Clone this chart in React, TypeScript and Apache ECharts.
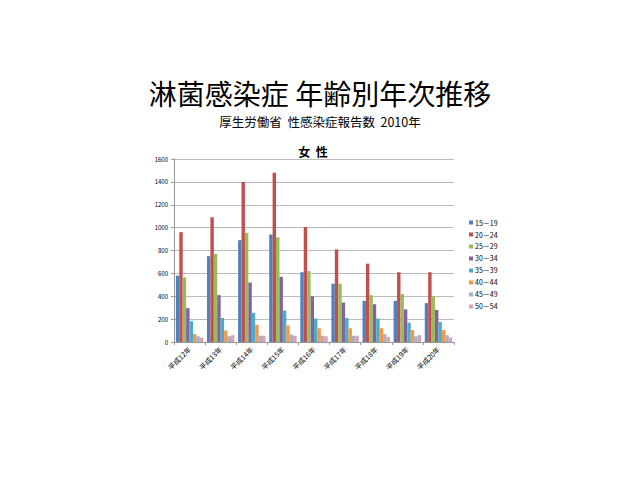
import { useEffect, useRef } from "react";
import * as echarts from "echarts";

const years = ["平成12年", "平成13年", "平成14年", "平成15年", "平成16年", "平成17年", "平成18年", "平成19年", "平成20年"];
const ageGroups = ["15－19", "20－24", "25－29", "30－34", "35－39", "40－44", "45－49", "50－54"];
const colors = ["#4F81BD", "#C0504D", "#9BBB59", "#8064A2", "#4BACC6", "#F79646", "#A3B0C8", "#D9A3B2"];

// one array per age group, values per year
const age15 = [580, 750, 890, 940, 610, 510, 360, 360, 340];
const age20 = [960, 1090, 1400, 1480, 1005, 810, 685, 610, 610];
const age25 = [565, 770, 955, 915, 620, 510, 410, 420, 400];
const age30 = [296, 410, 520, 570, 400, 345, 330, 285, 280];
const age35 = [182, 210, 255, 275, 205, 210, 205, 170, 175];
const age40 = [70, 100, 150, 145, 120, 120, 120, 105, 105];
const age45 = [50, 50, 55, 65, 55, 55, 70, 50, 60];
const age50 = [38, 60, 55, 55, 50, 55, 45, 60, 40];
const seriesData = [age15, age20, age25, age30, age35, age40, age45, age50];

export default function App() {
  const ref = useRef<HTMLDivElement | null>(null);

  useEffect(() => {
    const el = ref.current!;
    const chart = echarts.init(el, null, { renderer: "svg" });
    chart.setOption({
      animation: false,
      backgroundColor: "#fff",
      textStyle: { fontFamily: "Noto Sans CJK JP" },
      title: [
        {
          text: "淋菌感染症 年齢別年次推移",
          left: "center",
          top: 79,
          padding: 0,
          textStyle: { fontSize: 28, lineHeight: 28, fontWeight: "normal", color: "#000", fontFamily: "Noto Sans CJK JP" },
        },
        {
          text: "厚生労働省  性感染症報告数  2010年",
          left: "center",
          top: 114,
          padding: 0,
          textStyle: { fontSize: 12.5, lineHeight: 14, fontWeight: "normal", color: "#000", fontFamily: "Noto Sans CJK JP" },
        },
        {
          text: "女  性",
          left: 313,
          textAlign: "center",
          top: 145,
          padding: 0,
          textStyle: { fontSize: 12, fontWeight: "bold", color: "#000", fontFamily: "Noto Sans CJK JP" },
        },
      ],
      legend: {
        orient: "vertical",
        left: 464,
        top: 214,
        itemWidth: 4,
        itemHeight: 4,
        itemGap: 5,
        icon: "rect",
        textStyle: { fontSize: 7, color: "#000", padding: [0, 0, 0, -3] },
        data: ageGroups,
      },
      grid: { left: 174, right: 186, top: 159, bottom: 138 },
      xAxis: {
        type: "category",
        data: years,
        axisLine: { lineStyle: { color: "#999" } },
        axisTick: { show: true, length: 3, lineStyle: { color: "#999" } },
        axisLabel: { rotate: 45, fontSize: 7, color: "#000", margin: 6, interval: 0 },
      },
      yAxis: {
        type: "value",
        min: 0,
        max: 1600,
        interval: 200,
        axisLine: { show: true, lineStyle: { color: "#999" } },
        axisTick: { show: true, length: 3, lineStyle: { color: "#999" } },
        axisLabel: { fontSize: 6, color: "#000", margin: 6, formatter: (v: number) => String(v) },
        splitLine: { lineStyle: { color: "#bbb" } },
      },
      series: ageGroups.map((name, i) => ({
        name,
        type: "bar",
        data: seriesData[i],
        barGap: "0%",
        barCategoryGap: "12%",
        itemStyle: { color: colors[i] },
      })),
    });
    return () => chart.dispose();
  }, []);

  return <div ref={ref} style={{ position: "absolute", left: 0, top: 0, width: 640, height: 480 }} />;
}
